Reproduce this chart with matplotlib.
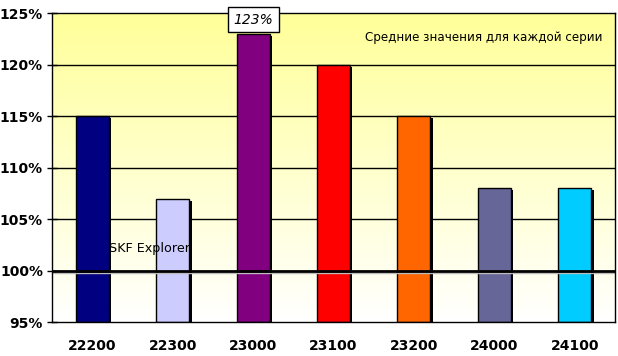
import numpy as np
import matplotlib
matplotlib.use("Agg")
import matplotlib.pyplot as plt
import matplotlib.transforms as mtransforms
from matplotlib.colors import LinearSegmentedColormap

categories = ["22200", "22300", "23000", "23100", "23200", "24000", "24100"]
values = [115, 107, 123, 120, 115, 108, 108]
colors = ["#000080", "#CCCCFF", "#800080", "#FF0000", "#FF6600", "#666699", "#00CCFF"]
yticks = [95, 100, 105, 110, 115, 120, 125]
ytick_labels = ["95%", "100%", "105%", "110%", "115%", "120%", "125%"]

fig = plt.figure(figsize=(6.18, 3.56), dpi=100)
ax = fig.add_axes([52/618, (356-322)/356, (615-52)/618, (322-13.3)/356])

x = np.arange(len(categories))
ax.set_xlim(-0.5, len(categories) - 0.5)
ax.set_ylim(95, 125)

# gradient background: white at bottom to light yellow at top
cmap = LinearSegmentedColormap.from_list("bg", ["#FFFFFF", "#FFFF99"])
grad = np.linspace(0, 1, 256).reshape(-1, 1)
ax.imshow(grad, aspect="auto", cmap=cmap, origin="lower",
          extent=(-0.5, len(categories) - 0.5, 95, 125), zorder=0)

# gridlines
for t in yticks[1:-1]:
    if t == 100:
        continue
    ax.axhline(t, color="black", lw=1.0, zorder=1)
ax.plot([-0.5, len(categories) - 0.5], [100, 100], color="#BBBBBB", lw=1.0, zorder=3,
        transform=mtransforms.offset_copy(ax.transData, fig=fig, x=0, y=-2, units="dots"))
ax.axhline(100, color="black", lw=2.0, zorder=4)

bar_w = 0.41
# shadows
shadow_tr = mtransforms.offset_copy(ax.transData, fig=fig, x=2.5, y=-2, units="dots")
ax.bar(x, [v - 95 for v in values], bottom=95, width=bar_w, color="black",
       transform=shadow_tr, zorder=2)
ax.bar(x, [v - 95 for v in values], bottom=95, width=bar_w, color=colors,
       edgecolor="black", linewidth=1.0, zorder=2.5)

ax.set_yticks(yticks)
ax.set_yticklabels(ytick_labels, fontsize=10, fontweight="bold")
ax.set_xticks(x)
ax.set_xticklabels(categories, fontsize=10, fontweight="bold")
ax.tick_params(axis="x", length=0, pad=12)
ax.tick_params(axis="y", length=7, width=1, direction="inout", pad=3)
for s in ax.spines.values():
    s.set_linewidth(1.0)
    s.set_color("black")
    s.set_zorder(5)

# annotation for max
imax = int(np.argmax(values))
ax.annotate(f"{values[imax]}%", xy=(x[imax], values[imax]), xytext=(0, 5),
            textcoords="offset points", ha="center", va="bottom",
            fontsize=10, fontstyle="italic", annotation_clip=False,
            bbox=dict(boxstyle="square,pad=0.4", fc="white", ec="black", lw=1.0),
            zorder=6)

ax.text(0.977, 122.6, "Средние значения для каждой серии", ha="right", va="center",
        fontsize=8.6, transform=mtransforms.blended_transform_factory(ax.transAxes, ax.transData),
        zorder=6)
ax.text(0.21, 102.1, "SKF Explorer", ha="left", va="center", fontsize=9.2, zorder=6)

fig.savefig("out.png", dpi=100)
